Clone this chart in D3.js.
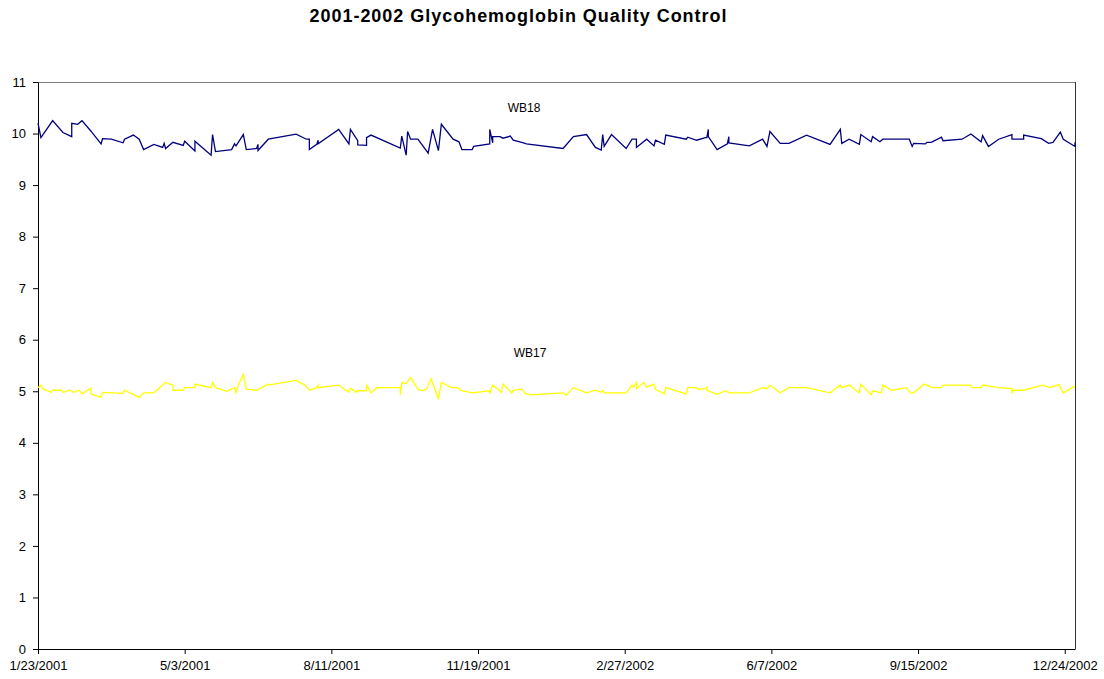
<!DOCTYPE html>
<html>
<head>
<meta charset="utf-8">
<script src="https://cdn.jsdelivr.net/npm/d3@7"></script>
<style>
  body { margin: 0; background: #fff; }
  svg { display: block; font-family: "Liberation Sans", Arial, sans-serif; }
  .axis text { font-size: 13px; fill: #000; }
  .axis path, .axis line { stroke: #000; }
</style>
</head>
<body>
<svg id="chart" width="1104" height="679"></svg>
<script>
// day offsets from 1/23/2001
var wb18Days = [0, 2, 10, 17, 23, 23, 27, 30, 36, 43, 44, 50, 58, 59, 65, 69, 72, 79, 85, 86, 87, 92, 99, 100,
  107, 107, 118, 119, 121, 132, 134, 135, 140, 142, 149, 150, 150, 157, 176, 183, 185, 185, 190, 191, 191,
  205, 212, 213, 218, 218, 224, 224, 227, 247, 248, 251, 252, 254, 259, 266, 269, 273, 275, 283, 287, 289,
  296, 297, 308, 308, 310, 310, 315, 317, 322, 324, 331, 333, 358, 365, 374, 380, 384, 385, 386, 391, 401,
  405, 408, 408, 415, 420, 421, 427, 428, 442, 443, 449, 455, 456, 457, 457, 463, 470, 471, 471, 485, 494,
  497, 499, 506, 512, 524, 540, 547, 548, 553, 560, 561, 568, 569, 574, 576, 594, 596, 597, 605, 606, 609,
  616, 617, 630, 636, 643, 644, 648, 655, 664, 664, 672, 672, 684, 689, 692, 697, 699, 707, 707];
var wb18Values = [10.20, 9.92, 10.25, 10.02, 9.94, 10.20, 10.18, 10.25, 10.05, 9.80, 9.90, 9.89, 9.82, 9.89,
  9.97, 9.89, 9.69, 9.79, 9.73, 9.81, 9.71, 9.83, 9.77, 9.85, 9.66, 9.85, 9.58, 9.98, 9.65, 9.69, 9.80, 9.76,
  9.98, 9.69, 9.71, 9.79, 9.67, 9.89, 9.99, 9.89, 9.89, 9.69, 9.79, 9.87, 9.80, 10.08, 9.80, 10.08, 9.86,
  9.78, 9.77, 9.92, 9.97, 9.72, 9.95, 9.58, 10.04, 9.89, 9.89, 9.62, 10.08, 9.67, 10.18, 9.89, 9.84, 9.69,
  9.69, 9.75, 9.80, 10.08, 9.82, 9.94, 9.94, 9.91, 9.95, 9.87, 9.82, 9.80, 9.71, 9.94, 9.98, 9.73, 9.68,
  9.98, 9.75, 9.98, 9.71, 9.89, 9.89, 9.73, 9.89, 9.76, 9.87, 9.79, 9.97, 9.89, 9.93, 9.87, 9.92, 9.92,
  10.08, 9.94, 9.69, 9.80, 9.94, 9.82, 9.76, 9.89, 9.75, 10.04, 9.81, 9.81, 9.97, 9.79, 10.08, 9.81, 9.89,
  9.79, 9.98, 9.84, 9.94, 9.84, 9.89, 9.89, 9.75, 9.81, 9.80, 9.83, 9.83, 9.93, 9.86, 9.89, 9.99, 9.84,
  9.96, 9.75, 9.89, 9.98, 9.89, 9.89, 9.97, 9.90, 9.81, 9.83, 10.03, 9.89, 9.75, 9.83];

var wb17Days = [0, 2, 3, 9, 10, 16, 17, 22, 24, 28, 30, 36, 36, 43, 44, 58, 59, 69, 72, 79, 87, 92, 92, 99,
  100, 107, 107, 118, 119, 121, 129, 134, 135, 137, 140, 142, 149, 157, 157, 176, 182, 185, 190, 191, 191,
  205, 212, 213, 217, 218, 224, 224, 227, 231, 247, 247, 248, 251, 254, 259, 262, 265, 268, 273, 275, 282,
  286, 289, 296, 308, 308, 310, 316, 317, 323, 324, 330, 332, 336, 358, 360, 365, 374, 380, 384, 385, 386,
  401, 405, 406, 408, 408, 413, 415, 420, 421, 427, 428, 442, 443, 449, 450, 455, 456, 456, 463, 469, 471,
  485, 494, 497, 499, 506, 512, 524, 540, 547, 548, 553, 560, 561, 568, 569, 575, 576, 582, 592, 595, 597,
  604, 610, 616, 617, 636, 637, 643, 644, 655, 664, 664, 665, 672, 685, 690, 696, 699, 707];
var wb17Values = [5.07, 5.12, 5.05, 4.98, 5.02, 5.02, 4.98, 5.02, 4.98, 5.02, 4.95, 5.06, 4.95, 4.88, 4.98,
  4.96, 5.02, 4.88, 4.97, 4.97, 5.17, 5.12, 5.02, 5.02, 5.07, 5.07, 5.14, 5.07, 5.17, 5.07, 5.00, 5.07,
  4.97, 5.15, 5.32, 5.04, 5.02, 5.14, 5.12, 5.21, 5.12, 5.02, 5.07, 5.12, 5.07, 5.12, 4.98, 5.06, 4.98,
  5.01, 5.01, 5.12, 4.97, 5.07, 5.07, 4.93, 5.17, 5.15, 5.27, 5.04, 5.01, 5.05, 5.24, 4.86, 5.17, 5.07,
  5.07, 5.01, 4.97, 5.01, 4.95, 5.12, 4.98, 5.14, 4.97, 5.02, 5.04, 4.96, 4.93, 4.97, 4.92, 5.07, 4.97,
  5.02, 4.98, 5.02, 4.97, 4.97, 5.12, 5.08, 5.17, 5.05, 5.17, 5.08, 5.14, 5.04, 4.95, 5.07, 4.95, 5.07,
  5.07, 5.04, 5.05, 5.08, 5.02, 4.94, 5.01, 4.97, 4.97, 5.07, 5.05, 5.12, 4.97, 5.07, 5.07, 4.97, 5.12,
  5.07, 5.12, 4.97, 5.14, 4.93, 5.01, 4.97, 5.12, 5.02, 5.07, 4.97, 4.97, 5.14, 5.07, 5.07, 5.12, 5.12,
  5.07, 5.07, 5.12, 5.07, 5.05, 4.96, 5.02, 5.02, 5.12, 5.07, 5.13, 4.97, 5.10];

var yTicks = [0, 1, 2, 3, 4, 5, 6, 7, 8, 9, 10, 11];
var xTickDays = [0, 100, 200, 300, 400, 500, 600, 700];
var startDate = new Date(2001, 0, 23);
var endDate = new Date(2002, 11, 31);

var svg = d3.select("#chart");
// note: "top" is taken by window.top, so plot edges get their own names
var plotLeft = 38, plotRight = 1075, plotTop = 82, plotBottom = 649;

var dayToDate = function(d) { return d3.timeDay.offset(startDate, d); };

var x = d3.scaleTime().domain([startDate, endDate]).range([plotLeft, plotRight]);
var y = d3.scaleLinear().domain([0, 11]).range([plotBottom, plotTop]);

// title
svg.append("text")
  .attr("x", 518)
  .attr("y", 22)
  .attr("text-anchor", "middle")
  .attr("textLength", 417)
  .attr("lengthAdjust", "spacing")
  .style("font-size", "18px")
  .style("font-weight", "bold")
  .text("2001-2002 Glycohemoglobin Quality Control");

// plot area border: grey top, dark right
svg.append("line")
  .attr("x1", plotLeft).attr("x2", plotRight + 1)
  .attr("y1", plotTop + 0.5).attr("y2", plotTop + 0.5)
  .attr("stroke", "#808080");
svg.append("line")
  .attr("x1", plotRight + 0.5).attr("x2", plotRight + 0.5)
  .attr("y1", plotTop).attr("y2", plotBottom)
  .attr("stroke", "#333");

var fmt = function(d) { return (d.getMonth() + 1) + "/" + d.getDate() + "/" + d.getFullYear(); };

svg.append("g")
  .attr("class", "axis")
  .attr("transform", "translate(0," + plotBottom + ")")
  .call(d3.axisBottom(x)
    .tickValues(xTickDays.map(dayToDate))
    .tickSize(5)
    .tickSizeOuter(0)
    .tickPadding(7)
    .tickFormat(fmt));

svg.append("g")
  .attr("class", "axis")
  .attr("transform", "translate(" + plotLeft + ",0)")
  .call(d3.axisLeft(y)
    .tickValues(yTicks)
    .tickSize(5)
    .tickSizeOuter(0)
    .tickPadding(7));

var line = d3.line()
  .x(function(d) { return x(dayToDate(d[0])); })
  .y(function(d) { return y(d[1]); });

var series = [
  { name: "WB18", days: wb18Days, values: wb18Values, color: "#000080", lx: 524, ly: 112 },
  { name: "WB17", days: wb17Days, values: wb17Values, color: "#FFFF00", lx: 530, ly: 357 }
];

series.forEach(function(s) {
  var pts = s.days.map(function(d, i) { return [d, s.values[i]]; });
  svg.append("path")
    .datum(pts)
    .attr("fill", "none")
    .attr("stroke", s.color)
    .attr("stroke-width", 1.3)
    .attr("stroke-linejoin", "miter")
    .attr("d", line);
  svg.append("text")
    .attr("x", s.lx)
    .attr("y", s.ly)
    .attr("text-anchor", "middle")
    .style("font-size", "12px")
    .text(s.name);
});
</script>
</body>
</html>
